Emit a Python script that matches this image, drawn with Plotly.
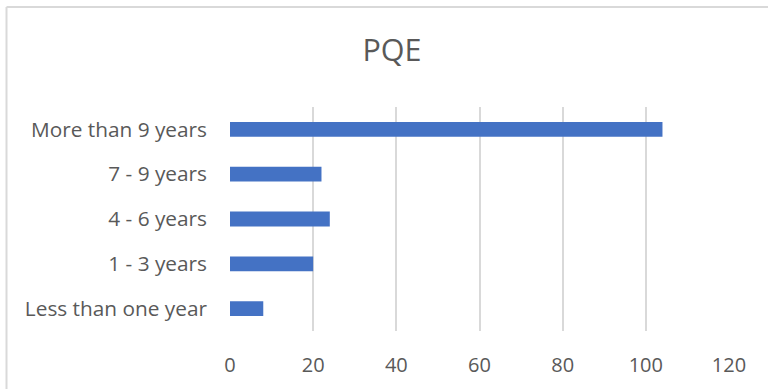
import plotly.graph_objects as go

categories = ["Less than one year", "1 - 3 years", "4 - 6 years", "7 - 9 years", "More than 9 years"]
values = [8, 20, 24, 22, 104]
x_ticks = [0, 20, 40, 60, 80, 100, 120]

W, H = 768, 389
ml, mr, mt, mb = 230, 39, 107, 58
pw, ph = W - ml - mr, H - mt - mb

FONT = "Open Sans"
TXT = "#595959"
GRID = "#d9d9d9"

fig = go.Figure(go.Bar(
    x=values, y=categories, orientation="h",
    marker=dict(color="#4472C4", line=dict(width=0)),
    width=0.33,
))

# chart-area border (left and top edges visible)
bx = (6.5 - ml) / pw
by = 1 + (mt - 7) / ph
fig.add_shape(type="line", xref="paper", yref="paper", x0=bx, x1=bx, y0=-1, y1=by,
              line=dict(color=GRID, width=2))
fig.add_shape(type="line", xref="paper", yref="paper", x0=bx, x1=2, y0=by, y1=by,
              line=dict(color=GRID, width=2))

fig.update_layout(
    width=W, height=H,
    margin=dict(l=ml, r=mr, t=mt, b=mb, pad=0),
    paper_bgcolor="white", plot_bgcolor="white",
    showlegend=False,
    title=dict(text="PQE", x=392 / W, xanchor="center", xref="container",
               y=1 - 50 / H, yanchor="middle", yref="container",
               font=dict(family=FONT, size=30.5, color=TXT)),
    xaxis=dict(range=[0, 120], tickvals=x_ticks, showgrid=True, gridcolor=GRID, gridwidth=1.5,
               zeroline=False, showline=False, ticks="", ticklabelstandoff=20,
               tickfont=dict(family=FONT, size=20, color=TXT), fixedrange=True),
    yaxis=dict(categoryorder="array", categoryarray=categories, showgrid=False,
               zeroline=False, showline=False, ticks="", ticklabelstandoff=22,
               tickfont=dict(family=FONT, size=20.8, color=TXT), fixedrange=True),
    bargap=0.67,
)

fig.write_html("out.html")
